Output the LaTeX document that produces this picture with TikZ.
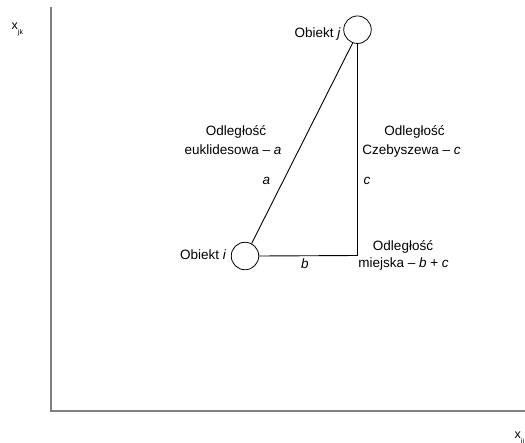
\documentclass[tikz,border=0pt]{standalone}
\usepackage{fontspec}
\setmainfont{Liberation Sans}
\begin{document}
\begin{tikzpicture}[x=1pt,y=-1pt,
  axis/.style={draw=black!50, line width=1.4pt},
  conn/.style={draw=black, line width=0.9pt},
  obj/.style={circle, draw=black, line width=0.8pt, minimum size=27.5pt, inner sep=0pt, fill=white},
  lbl/.style={anchor=base, inner sep=0pt, font=\fontsize{13.5}{19}\selectfont},
  axlbl/.style={anchor=base west, inner sep=0pt, font=\fontsize{12.5}{14}\selectfont}]
\useasboundingbox (0,0) rectangle (525,442);
% axes
\coordinate (ytop) at (51,6.5);
\coordinate (origin) at (51,411);
\coordinate (xend) at (526,411);
\draw[axis] (ytop) -- (origin) -- (xend);
\node[axlbl] (xjk) at (11.5,29) {x\raisebox{-5pt}{\fontsize{7}{8}\selectfont jk}};
\node[axlbl] (xij) at (514.5,438) {x\raisebox{-5pt}{\fontsize{7}{8}\selectfont ij}};
% objects
\node[obj] (j) at (357.5,29.7) {};
\node[obj] (i) at (245,256) {};
\coordinate (k) at (357.5,255.5);
\draw[conn] (i.62) -- (j.250);
\draw[conn] (j.south) -- (k) -- (i.east);
% labels
\node[lbl, anchor=base east] (li) at (226.5,259.5) {Obiekt \textit{i}};
\node[lbl, anchor=base east] (lj) at (341,37.5) {Obiekt \textit{j}};
\node[lbl] (eu1) at (236,135) {Odległość};
\node[lbl] (eu2) at (233,154) {euklidesowa – \textit{a}};
\node[lbl] (la) at (266.5,184) {\textit{a}};
\node[lbl] (cz1) at (414.5,135) {Odległość};
\node[lbl] (cz2) at (411.5,154) {Czebyszewa – \textit{c}};
\node[lbl] (lc) at (367,184) {\textit{c}};
\node[lbl] (mi1) at (403,250) {Odległość};
\node[lbl] (mi2) at (403.5,267) {miejska – \textit{b} + \textit{c}};
\node[lbl] (lb) at (305,268) {\textit{b}};
\end{tikzpicture}
\end{document}
